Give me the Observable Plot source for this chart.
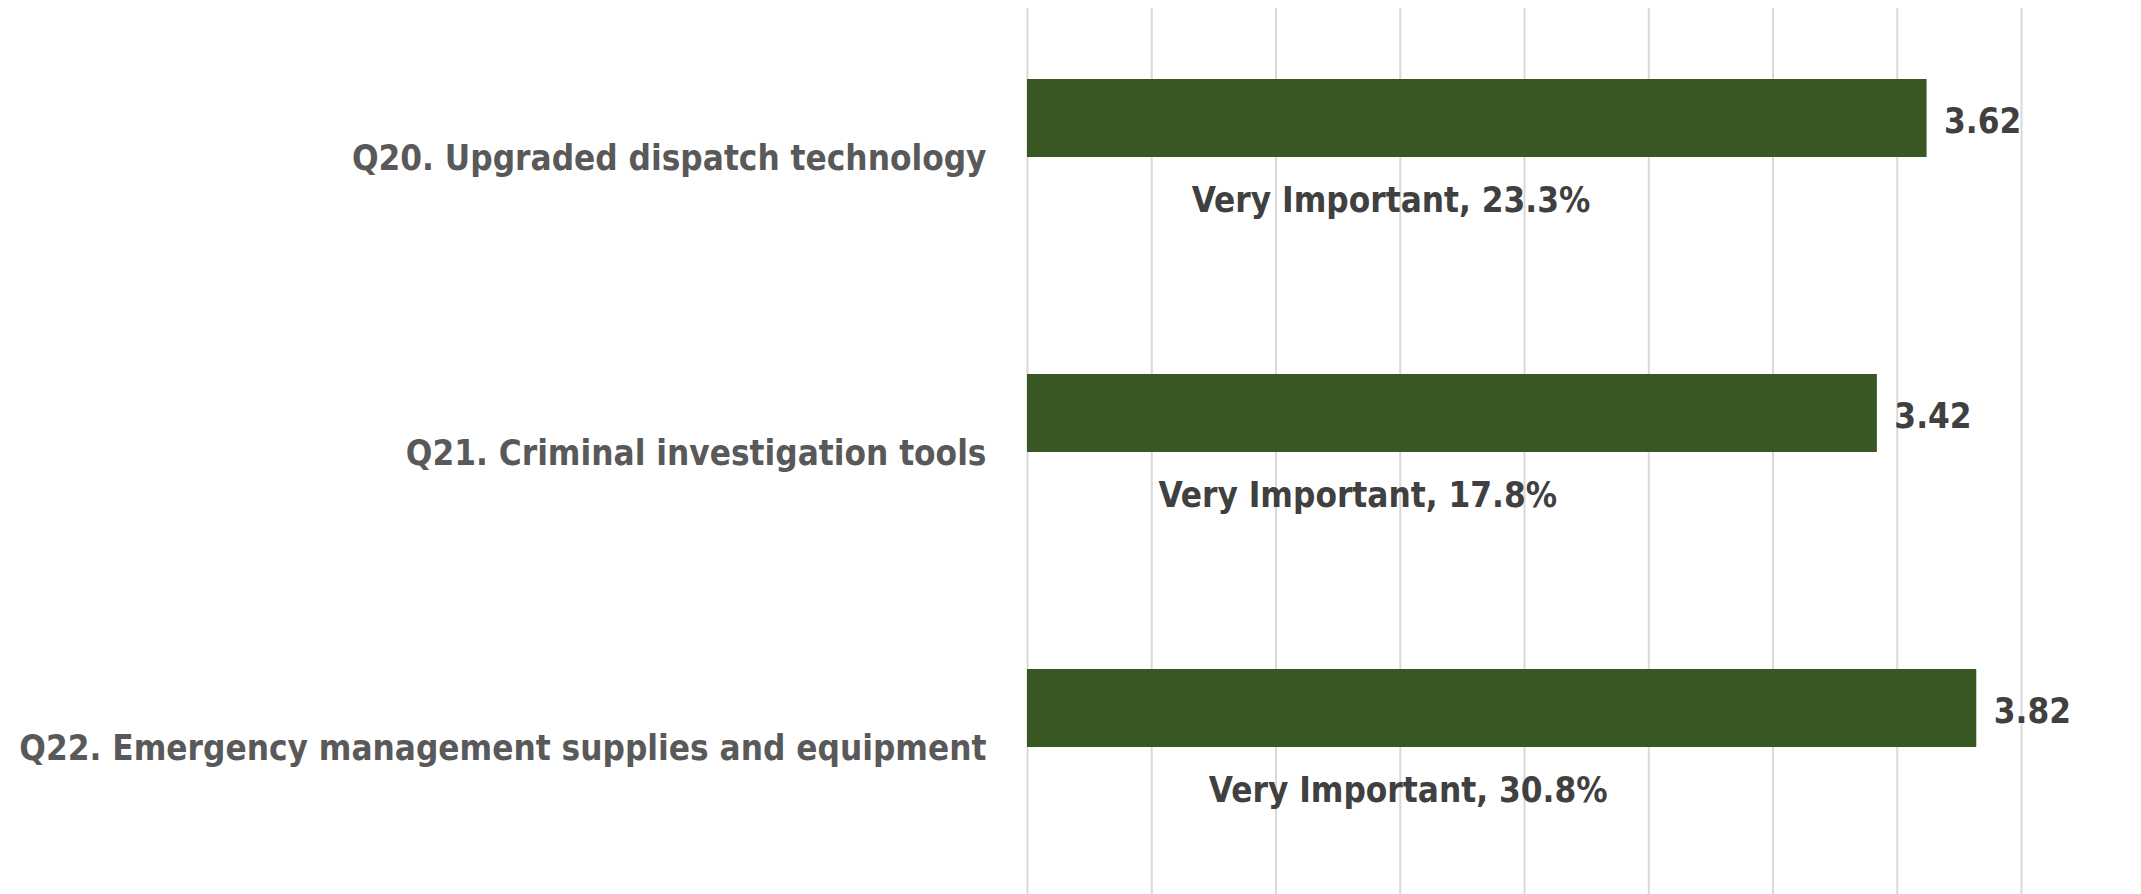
<!DOCTYPE html>
<html>
<head>
<meta charset="utf-8">
<script src="https://cdn.jsdelivr.net/npm/d3@7"></script>
<script src="https://cdn.jsdelivr.net/npm/@observablehq/plot@0.6"></script>
<style>
  html, body { margin: 0; padding: 0; background: #fff; }
  #chart svg { display: block; }
</style>
</head>
<body>
<div id="chart"></div>
<script>
const categories = [
  "Q20. Upgraded dispatch technology",
  "Q21. Criminal investigation tools",
  "Q22. Emergency management supplies and equipment"
];
const meanScores = [3.62, 3.42, 3.82];
const veryImportantPct = [23.3, 17.8, 30.8];
// where Excel placed the "Very Important" label (in axis units)
const veryImportantLabelAt = [1.463, 1.329, 1.532];
const gridTicks = [0, 0.5, 1, 1.5, 2, 2.5, 3, 3.5, 4];

const data = categories.map((c, i) => ({
  category: c,
  score: meanScores[i],
  pct: veryImportantPct[i],
  labelAt: veryImportantLabelAt[i]
}));

const FONT = "'DejaVu Sans Condensed', 'DejaVu Sans', sans-serif";
const FS = 34.8;

const chart = Plot.plot({
  width: 2141,
  height: 894,
  marginLeft: 1027,
  marginRight: 120,
  marginTop: 8,
  marginBottom: 0,
  style: { fontFamily: FONT, background: "#fff" },
  x: { domain: [0, 4], axis: null },
  y: { domain: categories, paddingInner: 0.736, paddingOuter: 0.368, label: null },
  marks: [
    Plot.ruleX(gridTicks, { stroke: "#d9d9d9", strokeWidth: 2 }),
    Plot.barX(data, { x: "score", y: "category", fill: "#385723", dy: -38 }),
    Plot.text(data, {
      x: "score", y: "category", text: d => d.score.toFixed(2),
      textAnchor: "start", dx: 17, dy: -35,
      fontSize: FS, fontWeight: "bold", fill: "#404040"
    }),
    Plot.text(data, {
      x: "labelAt", y: "category", text: d => `Very Important, ${d.pct.toFixed(1)}%`,
      textAnchor: "middle", dy: 44,
      fontSize: FS, fontWeight: "bold", fill: "#404040"
    }),
    Plot.axisY({
      tickSize: 0, tickPadding: 41, dy: 2, fontSize: FS, fontWeight: "bold",
      fill: "#595959", label: null
    })
  ]
});
document.getElementById("chart").appendChild(chart);
</script>
</body>
</html>
